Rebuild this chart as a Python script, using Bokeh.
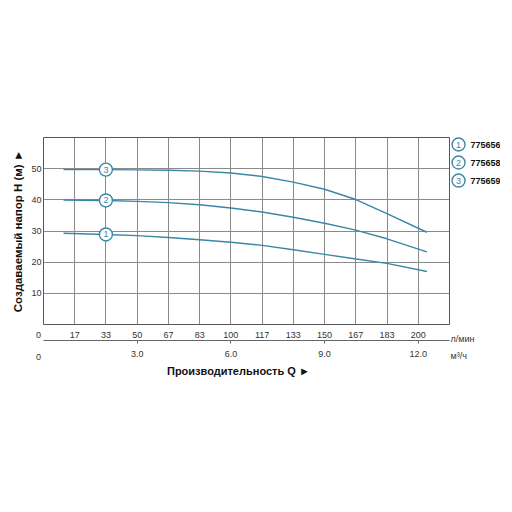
import numpy as np
from bokeh.plotting import figure
from bokeh.models import Range1d, LinearAxis, FixedTicker, Grid, ColumnDataSource
from bokeh.core.properties import value
from bokeh.embed import file_html
from bokeh.resources import INLINE

# flow, l/min, and head, m
flow = [10.7, 33.3, 50, 66.7, 83.3, 100, 116.7, 133.3, 150, 166.7, 183.3, 204.6]
head_775656 = [29.3, 28.9, 28.5, 27.9, 27.2, 26.4, 25.4, 24.0, 22.5, 21.0, 19.6, 17.0]
head_775658 = [39.9, 39.8, 39.5, 39.1, 38.4, 37.4, 36.1, 34.4, 32.5, 30.3, 27.5, 23.3]
head_775659 = [49.7, 49.7, 49.6, 49.5, 49.2, 48.6, 47.5, 45.7, 43.4, 40.1, 35.6, 29.6]
models = ["775656", "775658", "775659"]
marker_flow = 33.3

lmin_ticks = [16.67, 33.33, 50, 66.67, 83.33, 100, 116.67, 133.33, 150, 166.67, 183.33, 200]
lmin_labels = ["17", "33", "50", "67", "83", "100", "117", "133", "150", "167", "183", "200"]
m3h_ticks = [3, 6, 9, 12]
m3h_labels = ["3.0", "6.0", "9.0", "12.0"]
head_ticks = [10, 20, 30, 40, 50]

TEAL = "#3a87a5"
FONT = "Liberation Sans"
GREY_TXT = "#333333"

p = figure(width=500, height=500, output_backend="svg", toolbar_location=None,
           x_range=Range1d(0, 216.67), y_range=Range1d(0, 60),
           x_axis_location=None, y_axis_location=None,
           min_border_left=43, min_border_right=51, min_border_top=137, min_border_bottom=176)
p.outline_line_color = "#555555"
p.extra_x_ranges = {"m3h": Range1d(0, 13.0)}
p.xgrid.grid_line_color = None
p.ygrid.grid_line_color = None

# axes
xa = LinearAxis(ticker=FixedTicker(ticks=lmin_ticks),
                major_label_overrides={t: l for t, l in zip(lmin_ticks, lmin_labels)})
xa.axis_line_color = None
xa.major_tick_line_color = None
xa.minor_tick_line_color = None
xa.major_tick_out = 0
xa.major_label_standoff = 7
xa.major_label_text_font = FONT
xa.major_label_text_font_size = "9px"
xa.major_label_text_color = GREY_TXT
p.add_layout(xa, "below")

xb = LinearAxis(x_range_name="m3h", ticker=FixedTicker(ticks=m3h_ticks),
                major_label_overrides={t: l for t, l in zip(m3h_ticks, m3h_labels)})
xb.axis_line_color = "#666666"
xb.major_tick_line_color = "#666666"
xb.minor_tick_line_color = None
xb.major_tick_in = 0
xb.major_tick_out = 3
xb.major_label_standoff = 7
xb.major_label_text_font = FONT
xb.major_label_text_font_size = "9px"
xb.major_label_text_color = GREY_TXT
p.add_layout(xb, "below")

ya = LinearAxis(ticker=FixedTicker(ticks=head_ticks))
ya.axis_line_color = None
ya.major_tick_line_color = None
ya.minor_tick_line_color = None
ya.major_tick_out = 0
ya.major_label_standoff = 2
ya.major_label_text_font = FONT
ya.major_label_text_font_size = "9px"
ya.major_label_text_color = GREY_TXT
ya.axis_label = "Создаваемый напор H (м) ►"
ya.axis_label_text_font = FONT
ya.axis_label_text_font_size = "11.5px"
ya.axis_label_text_font_style = "bold"
ya.axis_label_text_color = "#111111"
ya.axis_label_standoff = 4
p.add_layout(ya, "left")

p.add_layout(Grid(dimension=0, ticker=FixedTicker(ticks=lmin_ticks), grid_line_color="#8a8a8a"))
p.add_layout(Grid(dimension=1, ticker=FixedTicker(ticks=head_ticks), grid_line_color="#8a8a8a"))

# curves
heads = [head_775656, head_775658, head_775659]
for h in heads:
    p.line(flow, h, line_color=TEAL, line_width=1.4)

mk_y = [float(np.interp(marker_flow, flow, h)) for h in heads]
mk = ColumnDataSource(dict(x=[marker_flow] * 3, y=mk_y, t=["1", "2", "3"]))
p.scatter("x", "y", source=mk, size=13, fill_color="white", line_color=TEAL, line_width=1.4)
p.text("x", "y", text="t", source=mk, text_align="center", text_baseline="middle",
       text_font=value(FONT), text_font_size="9px", text_color=TEAL)

# texts outside the frame are drawn at overlay level so they are not clipped
outside = []

# legend to the right of the frame
leg = ColumnDataSource(dict(x=[221.5] * 3, tx=[227.9] * 3, y=[57.75, 51.97, 46.18],
                            t=["1", "2", "3"], name=models))
outside.append(p.scatter("x", "y", source=leg, size=13, fill_color="white",
                         line_color=TEAL, line_width=1.4))
outside.append(p.text("x", "y", text="t", source=leg, text_align="center", text_baseline="middle",
                      text_font=value(FONT), text_font_size="9px", text_color=TEAL))
outside.append(p.text("tx", "y", text="name", source=leg, text_align="left", text_baseline="middle",
                      text_font=value(FONT), text_font_size="9px", text_font_style="bold",
                      text_color="#111111"))

# zero labels of both flow scales and their units
outside.append(p.text(x=[0, 0], y=[0, 0], text=["0", "0"], x_offset=-5, y_offset=[10.5, 32],
                      text_align="center", text_baseline="middle", text_font=value(FONT),
                      text_font_size="9px", text_color=GREY_TXT))
outside.append(p.text(x=[216.67, 216.67], y=[0, 0], text=["л/мин", "м³/ч"], x_offset=1,
                      y_offset=[14, 31.5], text_align="left", text_baseline="middle",
                      text_font=value(FONT), text_font_size="9px", text_color=GREY_TXT))
outside.append(p.text(x=[104], y=[0], text=["Производительность Q ►"], y_offset=46,
                      text_align="center", text_baseline="middle", text_font=value(FONT),
                      text_font_size="11px", text_font_style="bold", text_color="#111111"))
for r in outside:
    r.level = "overlay"

open("out.html", "w").write(file_html(p, INLINE))
